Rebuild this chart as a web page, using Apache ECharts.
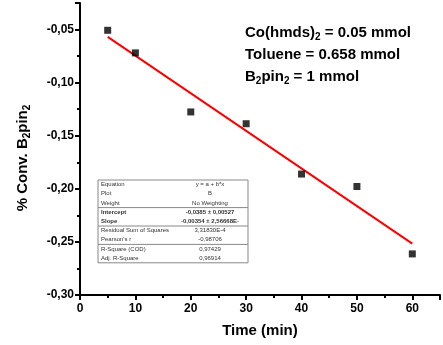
<!DOCTYPE html>
<html>
<head>
<meta charset="utf-8">
<script src="https://cdn.jsdelivr.net/npm/echarts@6/dist/echarts.min.js"></script>
<style>
  html, body { margin: 0; padding: 0; background: #fff; }
  #chart { width: 443px; height: 345px; }
</style>
</head>
<body>
<div id="chart"></div>
<script>
// measured points
var timeMin = [5, 10, 20, 30, 40, 50, 60]
var conv = [-0.0507, -0.072, -0.1276, -0.1387, -0.1861, -0.1978, -0.2613]

// linear fit line ends
var fitX = [5, 60]
var fitY = [-0.0569, -0.2516]

var xTicks = [0, 10, 20, 30, 40, 50, 60]
var yTicks = [-0.30, -0.25, -0.20, -0.15, -0.10, -0.05]

// {s|..} marks subscripts
var notes = [
  '{a|Co(hmds)}{s|2}{a| = 0.05 mmol}',
  '{a|Toluene = 0.658 mmol}',
  '{a|B}{s|2}{a|pin}{s|2}{a| = 1 mmol}'
]

var statNames = ['Equation', 'Plot', 'Weight', 'Intercept', 'Slope',
  'Residual Sum of Squares', "Pearson's r", 'R-Square (COD)', 'Adj. R-Square']
var statValues = ['y = a + b*x', 'B', 'No Weighting', '-0,0385 ± 0,00527',
  '-0,00354 ± 2,56668E-', '3,31830E-4', '-0,98706', '0,97429', '0,96914']

var chart = echarts.init(document.getElementById('chart'))

function comma(v, d) {
  return v.toFixed(d).replace('.', ',')
}

var richNote = {
  a: { fontSize: 15, fontWeight: 'bold', color: '#000', fontFamily: 'Arial' },
  s: { fontSize: 10, fontWeight: 'bold', color: '#000', fontFamily: 'Arial', padding: [9, 0, 0, 0] }
}

// stats box drawn as graphic elements
function statsTable() {
  var left = 98, top = 180, w = 150, rowH = 9.2
  var els = [{
    type: 'rect',
    shape: { x: left, y: top, width: w, height: rowH * statNames.length },
    style: { fill: '#fff', stroke: '#888', lineWidth: 1 }
  }]
  statNames.forEach(function (name, i) {
    var bold = name === 'Intercept' || name === 'Slope'
    els.push({
      type: 'text', x: left + 3, y: top + rowH * i + rowH / 2,
      style: { text: name, fontSize: 6, fontWeight: bold ? 'bold' : 'normal',
        fill: '#333', verticalAlign: 'middle', fontFamily: 'Arial' }
    })
    els.push({
      type: 'text', x: left + 112, y: top + rowH * i + rowH / 2,
      style: { text: statValues[i], fontSize: 6, fontWeight: bold ? 'bold' : 'normal',
        fill: '#333', align: 'center', verticalAlign: 'middle', fontFamily: 'Arial' }
    })
  });
  [3, 5, 7].forEach(function (r) {
    els.push({
      type: 'line',
      shape: { x1: left, y1: top + rowH * r, x2: left + w, y2: top + rowH * r },
      style: { stroke: '#888', lineWidth: 1 }
    })
  })
  return els
}

var option = {
  animation: false,
  backgroundColor: '#fff',
  grid: { left: 80, top: 3, width: 363, height: 292 },
  xAxis: {
    type: 'value',
    min: 0,
    max: 65,
    interval: 10,
    name: 'Time (min)',
    nameLocation: 'middle',
    nameGap: 28,
    nameTextStyle: { fontSize: 15, fontWeight: 'bold', color: '#000', fontFamily: 'Arial' },
    axisLine: { onZero: false, lineStyle: { color: '#000', width: 2 } },
    axisTick: { length: 5, lineStyle: { width: 2, color: '#000' } },
    minorTick: { show: true, splitNumber: 2, length: 3, lineStyle: { width: 2, color: '#000' } },
    splitLine: { show: false },
    axisLabel: {
      fontSize: 12, fontWeight: 'bold', color: '#000', fontFamily: 'Arial', margin: 8,
      formatter: function (v) { return xTicks.indexOf(v) >= 0 ? String(v) : '' }
    }
  },
  yAxis: {
    type: 'value',
    min: -0.30,
    max: -0.025,
    interval: 0.05,
    name: '{a|% Conv. B}{s|2}{a|pin}{s|2}',
    nameLocation: 'middle',
    nameGap: 48,
    nameTextStyle: {
      padding: [0, 18, 0, 0],
      rich: {
        a: { fontSize: 15, fontWeight: 'bold', color: '#000', fontFamily: 'Arial' },
        s: { fontSize: 10, fontWeight: 'bold', color: '#000', fontFamily: 'Arial', padding: [9, 0, 0, 0] }
      }
    },
    axisLine: { lineStyle: { color: '#000', width: 2 } },
    axisTick: { length: 5, lineStyle: { width: 2, color: '#000' } },
    minorTick: { show: true, splitNumber: 2, length: 3, lineStyle: { width: 2, color: '#000' } },
    splitLine: { show: false },
    axisLabel: {
      fontSize: 12, fontWeight: 'bold', color: '#000', fontFamily: 'Arial', margin: 6,
      formatter: function (v) {
        var hit = yTicks.some(function (t) { return Math.abs(t - v) < 1e-6 })
        return hit ? comma(v, 2) : ''
      }
    }
  },
  series: [
    {
      type: 'line',
      data: fitX.map(function (x, i) { return [x, fitY[i]] }),
      showSymbol: false,
      lineStyle: { color: '#ff0000', width: 2 },
      z: 2
    },
    {
      type: 'scatter',
      data: timeMin.map(function (x, i) { return [x, conv[i]] }),
      symbol: 'rect',
      symbolSize: 7,
      itemStyle: { color: '#000' },
      z: 3
    }
  ],
  graphic: notes.map(function (t, i) {
    return {
      type: 'text', left: 245, top: 25 + i * 22,
      style: { text: t, rich: richNote }
    }
  }).concat(statsTable())
}

chart.setOption(option)
</script>
</body>
</html>
